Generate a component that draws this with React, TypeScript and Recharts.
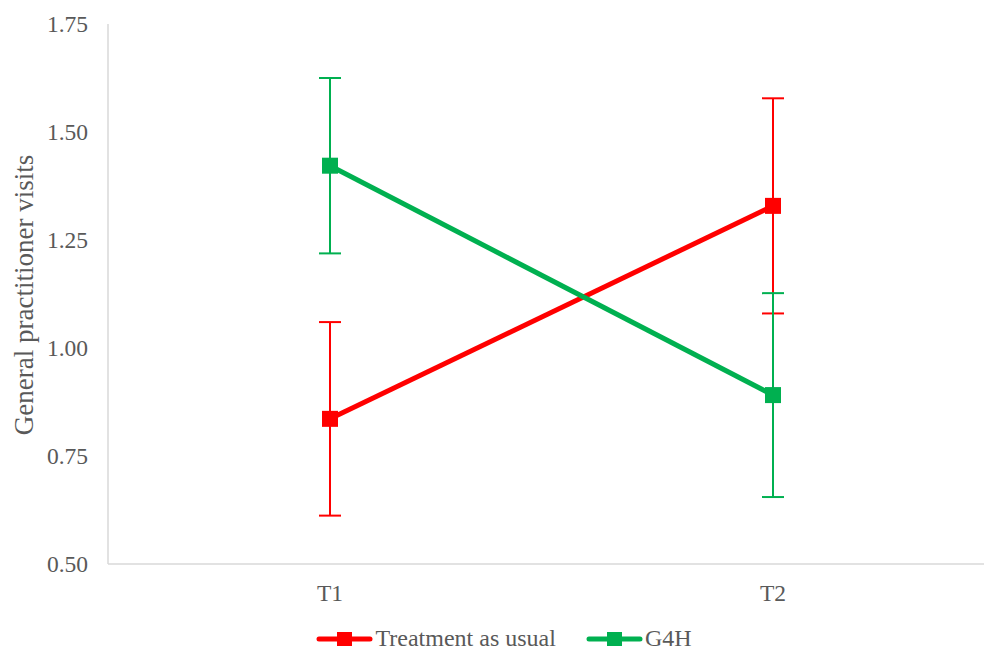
import { LineChart, Line, XAxis, YAxis, ErrorBar, Legend } from "recharts";

const timepoints = ["T1", "T2"];
const tauMean = [0.836, 1.329];
const tauErr = [0.224, 0.249];
const g4hMean = [1.422, 0.891];
const g4hErr = [0.203, 0.236];
const yTicks = [0.5, 0.75, 1.0, 1.25, 1.5, 1.75];

const RED = "#FF0000";
const GREEN = "#00B050";
const TEXT = "#595959";
const FONT = "Liberation Serif, DejaVu Serif, serif";

const data = timepoints.map((t, i) => ({
  time: t,
  tau: tauMean[i],
  tauErr: tauErr[i],
  g4h: g4hMean[i],
  g4hErr: g4hErr[i],
}));

const SquareDot = (props: any) => {
  const { cx, cy, fill } = props;
  if (cx == null || cy == null) return null;
  return <rect x={cx - 8} y={cy - 8} width={16} height={16} fill={fill} />;
};

const YLabel = (props: any) => {
  const vb = props.viewBox || {};
  const x = 24;
  const y = vb.y + vb.height / 2 + 1;
  return (
    <text
      x={x}
      y={y}
      transform={`rotate(-90 ${x} ${y})`}
      textAnchor="middle"
      dominantBaseline="central"
      fill={TEXT}
      style={{ fontSize: 27, fontFamily: FONT }}
    >
      General practitioner visits
    </text>
  );
};

const legendItems = [
  { name: "Treatment as usual", color: RED },
  { name: "G4H", color: GREEN },
];

const LegendContent = () => (
  <div style={{ display: "flex", justifyContent: "center", alignItems: "center", gap: 30 }}>
    {legendItems.map((it) => (
      <div key={it.name} style={{ display: "flex", alignItems: "center" }}>
        <svg width={57} height={18} style={{ marginRight: 2 }}>
          <line x1={3} y1={9} x2={54} y2={9} stroke={it.color} strokeWidth={5} strokeLinecap="round" />
          <rect x={21} y={2} width={15} height={14} fill={it.color} />
        </svg>
        <span style={{ color: TEXT, fontSize: 24, fontFamily: FONT }}>{it.name}</span>
      </div>
    ))}
  </div>
);

const tickStyle = { fill: TEXT, fontSize: 23.5, fontFamily: FONT, style: { fontFamily: FONT } };

export default function App() {
  return (
    <div
      style={{
        position: "absolute",
        left: 0,
        top: 0,
        width: 984,
        height: 657,
        overflow: "hidden",
        background: "#fff",
        fontFamily: FONT,
      }}
    >
      <LineChart width={1000} height={657} data={data} margin={{ top: 24, right: 5, bottom: 53, left: 28 }}>
        <XAxis
          dataKey="time"
          height={40}
          padding={{ left: 222, right: 222 }}
          axisLine={{ stroke: "#D9D9D9", strokeWidth: 1.5 }}
          tickLine={false}
          tickSize={0}
          tickMargin={20}
          tick={tickStyle}
        />
        <YAxis
          width={80}
          domain={[0.5, 1.75]}
          ticks={yTicks}
          allowDataOverflow
          tickFormatter={(v: number) => v.toFixed(2)}
          axisLine={{ stroke: "#D9D9D9", strokeWidth: 1.5 }}
          tickLine={false}
          tickSize={0}
          tickMargin={20}
          tick={tickStyle}
          label={<YLabel />}
        />
        <Legend
          verticalAlign="middle"
          content={<LegendContent />}
          wrapperStyle={{ left: 0, top: 625, width: 1008, height: 32 }}
        />
        <Line
          dataKey="tau"
          name="Treatment as usual"
          stroke={RED}
          strokeWidth={5}
          fill={RED}
          dot={<SquareDot />}
          activeDot={false}
          isAnimationActive={false}
        >
          <ErrorBar dataKey="tauErr" width={11} stroke={RED} strokeWidth={2} direction="y" />
        </Line>
        <Line
          dataKey="g4h"
          name="G4H"
          stroke={GREEN}
          strokeWidth={5}
          fill={GREEN}
          dot={<SquareDot />}
          activeDot={false}
          isAnimationActive={false}
        >
          <ErrorBar dataKey="g4hErr" width={11} stroke={GREEN} strokeWidth={2} direction="y" />
        </Line>
      </LineChart>
    </div>
  );
}
